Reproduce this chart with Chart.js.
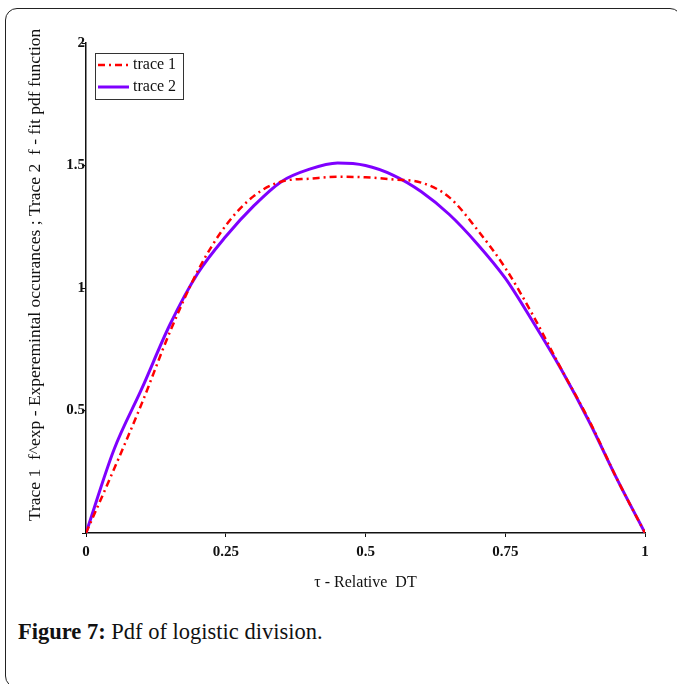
<!DOCTYPE html>
<html>
<head>
<meta charset="utf-8">
<script src="https://cdn.jsdelivr.net/npm/chart.js@4.4.1/dist/chart.umd.min.js"></script>
<style>
  html, body { margin: 0; padding: 0; background: #fff; }
  body { width: 677px; height: 684px; position: relative; overflow: hidden; }
  #frame {
    position: absolute; left: 5px; top: 8px; width: 677px; height: 680px;
    border: 1.5px solid #222; border-radius: 12px; box-sizing: border-box;
  }
  #wrap { position: absolute; left: 0; top: 0; width: 677px; height: 600px; }
  #caption {
    position: absolute; left: 18px; top: 619px;
    font-family: "Liberation Serif", serif; font-size: 22.5px; color: #111;
  }
  #caption b { font-weight: bold; }
</style>
</head>
<body>
<div id="frame"></div>
<div id="wrap"><canvas id="c"></canvas></div>
<div id="caption"><b>Figure 7:</b> Pdf of logistic division.</div>
<script>
// relative time steps (tau)
const tau = [0, 0.05, 0.1, 0.15, 0.2, 0.25, 0.3, 0.35, 0.4, 0.45, 0.5,
  0.55, 0.6, 0.65, 0.7, 0.75, 0.8, 0.85, 0.9, 0.95, 1];
// trace 1 - experimental occurances
const trace1 = [0, 0.26, 0.53, 0.82, 1.07, 1.255, 1.375, 1.435, 1.446, 1.454, 1.452,
  1.443, 1.43, 1.37, 1.238, 1.082, 0.887, 0.67, 0.46, 0.22, 0];
// trace 2 - fit pdf function
const trace2 = [0, 0.34, 0.59, 0.85, 1.06, 1.21, 1.335, 1.435, 1.485, 1.51, 1.5,
  1.46, 1.393, 1.3, 1.18, 1.04, 0.86, 0.668, 0.455, 0.22, 0];
const xTicks = [0, 0.25, 0.5, 0.75, 1];
const yTicks = [0.5, 1, 1.5, 2];

const serif = "'Liberation Serif', 'Times New Roman', serif";

// legend drawn inside the plot, top left
const boxLegend = {
  id: "boxLegend",
  afterDraw(chart) {
    const ctx = chart.ctx;
    const x = 95, y = 53, w = 88, h = 46;
    ctx.save();
    ctx.strokeStyle = "#333";
    ctx.lineWidth = 1;
    ctx.strokeRect(x + 0.5, y + 0.5, w, h);
    ctx.font = "16px " + serif;
    ctx.fillStyle = "#111";
    ctx.textBaseline = "middle";
    chart.data.datasets.forEach((ds, i) => {
      const ly = y + 12 + i * 22;
      ctx.beginPath();
      ctx.strokeStyle = ds.borderColor;
      ctx.lineWidth = ds.borderWidth;
      ctx.setLineDash(ds.borderDash || []);
      ctx.moveTo(x + 3, ly);
      ctx.lineTo(x + 34, ly);
      ctx.stroke();
      ctx.setLineDash([]);
      ctx.fillText(ds.label, x + 38, ly);
    });
    ctx.restore();
  }
};

new Chart(document.getElementById("c"), {
  type: "line",
  data: {
    datasets: [
      {
        label: "trace 1",
        data: tau.map((t, i) => ({ x: t, y: trace1[i] })),
        borderColor: "#ff0000",
        borderWidth: 2.5,
        borderDash: [7, 4, 2, 4],
        pointRadius: 0,
        cubicInterpolationMode: "monotone",
        fill: false
      },
      {
        label: "trace 2",
        data: tau.map((t, i) => ({ x: t, y: trace2[i] })),
        borderColor: "#7f00ff",
        borderWidth: 3,
        pointRadius: 0,
        cubicInterpolationMode: "monotone",
        fill: false
      }
    ]
  },
  options: {
    responsive: true,
    maintainAspectRatio: false,
    animation: false,
    layout: { padding: { left: 0, right: 32, top: 43, bottom: 0 } },
    plugins: {
      legend: { display: false },
      tooltip: { enabled: false }
    },
    scales: {
      x: {
        type: "linear",
        min: 0,
        max: 1,
        afterFit: (s) => { s.height = 67; },
        afterBuildTicks: (s) => { s.ticks = xTicks.map(v => ({ value: v })); },
        grid: { drawOnChartArea: false, drawTicks: true, tickLength: 4, color: "#111" },
        border: { display: true, color: "#111", width: 1.5 },
        ticks: {
          color: "#111",
          padding: 6,
          maxRotation: 0,
          font: { family: serif, size: 15, weight: "bold" },
          callback: (v) => String(v)
        },
        title: {
          display: true,
          text: "τ - Relative  DT",
          color: "#111",
          font: { family: serif, size: 16 },
          padding: { top: 0, bottom: 8 }
        }
      },
      y: {
        min: 0,
        max: 2,
        afterFit: (s) => { s.width = 86; },
        afterBuildTicks: (s) => { s.ticks = [0].concat(yTicks).map(v => ({ value: v })); },
        grid: { drawOnChartArea: false, drawTicks: true, tickLength: 4, color: "#111" },
        border: { display: true, color: "#111", width: 1.5 },
        ticks: {
          color: "#111",
          padding: -3,
          font: { family: serif, size: 15, weight: "bold" },
          callback: (v) => (v === 0 ? "" : String(v))
        },
        title: {
          display: true,
          // leading spaces nudge the rotated title up a little
          text: "      Trace 1  f^exp - Experemintal occurances ; Trace 2  f - fit pdf function",
          color: "#111",
          font: { family: serif, size: 17.5 },
          padding: { top: 25, bottom: 0 }
        }
      }
    }
  },
  plugins: [boxLegend]
});
</script>
</body>
</html>
